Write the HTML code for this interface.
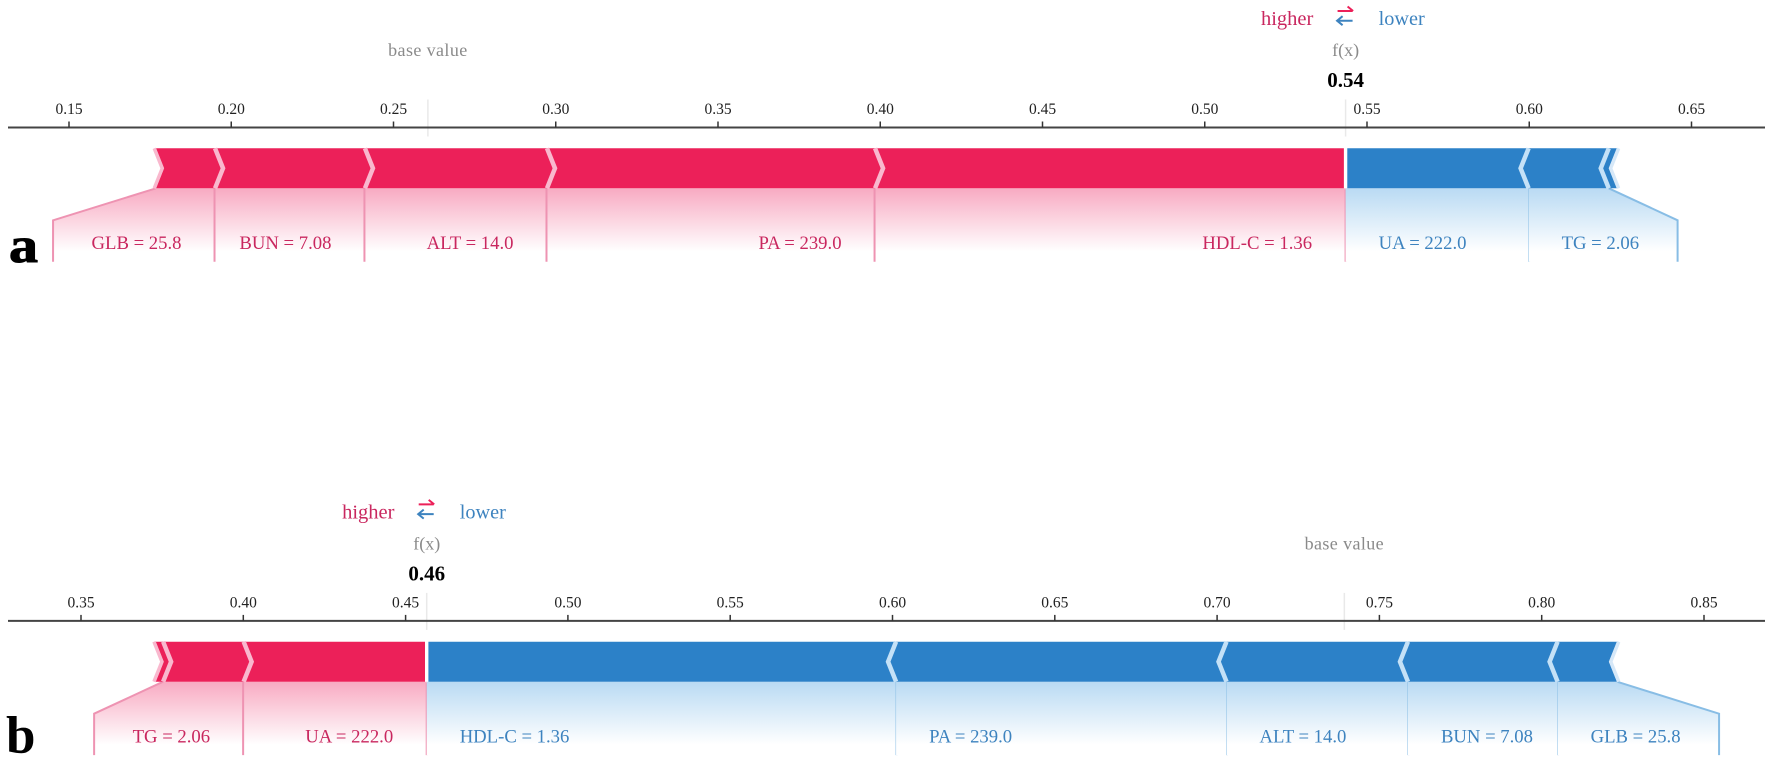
<!DOCTYPE html>
<html lang="en">
<head>
<meta charset="utf-8">
<title>Force plots</title>
<style>
html,body{margin:0;padding:0;background:#fff;}
body{width:1772px;height:761px;overflow:hidden;}
svg{display:block;font-family:"Liberation Serif",serif;}
</style>
</head>
<body>
<svg id="chart" xmlns="http://www.w3.org/2000/svg" width="1772" height="761" viewBox="0 0 1772 761">
  <defs>
    <linearGradient id="fade-red" x1="0" y1="0" x2="0" y2="1">
      <stop offset="0" stop-color="#f8aac2"/>
      <stop offset="0.86" stop-color="#fff"/>
    </linearGradient>
    <linearGradient id="fade-blue" x1="0" y1="0" x2="0" y2="1">
      <stop offset="0" stop-color="#b9daf3"/>
      <stop offset="0.86" stop-color="#fff"/>
    </linearGradient>
  </defs>
  <text x="9" y="262" font-size="50" font-weight="bold" fill="#000" stroke="#000" stroke-width="1" textLength="29" lengthAdjust="spacingAndGlyphs">a</text>
  <text x="6" y="753" font-size="53" font-weight="bold" fill="#000">b</text>
</svg>
<script>
// Panel a data
const aTicks = [0.15, 0.20, 0.25, 0.30, 0.35, 0.40, 0.45, 0.50, 0.55, 0.60, 0.65];
const aTickLabels = ["0.15", "0.20", "0.25", "0.30", "0.35", "0.40", "0.45", "0.50", "0.55", "0.60", "0.65"];
const aBaseValue = 0.2606;
const aOutput = 0.5434;
const aOutputLabel = "0.54";
const aHigherEdges = [0.1768, 0.1950, 0.2412, 0.2973, 0.3984];
const aHigherFeatures = ["GLB = 25.8", "BUN = 7.08", "ALT = 14.0", "PA = 239.0", "HDL-C = 1.36"];
const aLowerEdges = [0.5998, 0.6245, 0.6270];
const aLowerFeatures = ["UA = 222.0", "TG = 2.06", ""];

// Panel b data
const bTicks = [0.35, 0.40, 0.45, 0.50, 0.55, 0.60, 0.65, 0.70, 0.75, 0.80, 0.85];
const bTickLabels = ["0.35", "0.40", "0.45", "0.50", "0.55", "0.60", "0.65", "0.70", "0.75", "0.80", "0.85"];
const bBaseValue = 0.7392;
const bOutput = 0.4565;
const bOutputLabel = "0.46";
const bHigherEdges = [0.3730, 0.3753, 0.4001];
const bHigherFeatures = ["", "TG = 2.06", "UA = 222.0"];
const bLowerEdges = [0.6011, 0.7029, 0.7588, 0.8049, 0.8232];
const bLowerFeatures = ["HDL-C = 1.36", "PA = 239.0", "ALT = 14.0", "BUN = 7.08", "GLB = 25.8"];

const svg = document.getElementById('chart');
const NS = 'http://www.w3.org/2000/svg';
const RED = '#ec2059', BLUE = '#2c81c8', PALE_RED = '#f9b8ce', PALE_BLUE = '#c4e1f7';
const TEXT_RED = '#c9275f', TEXT_BLUE = '#3d83bf', LINE_RED = '#ee93b2', LINE_BLUE = '#88bde5';

function make(tag, attrs, parent, text) {
  const el = document.createElementNS(NS, tag);
  for (const k in attrs) el.setAttribute(k, attrs[k]);
  if (text !== undefined) el.textContent = text;
  parent.appendChild(el);
  return el;
}

function chevron(x, dir, top, mid, bot) {
  return x + ',' + top + ' ' + (x + dir * 8) + ',' + mid + ' ' + x + ',' + bot;
}

function drawPanel(name, xScale, dy, ticks, tickLabels, baseValue, output, outputLabel, higherEdges, higherFeatures, lowerEdges, lowerFeatures) {
  const g = make('g', {}, svg);
  
  

  const axisY = 127.5 + dy, top = 148.3 + dy, bot = 188.3 + dy, mid = 168.3 + dy;
  const knee = bot + 32, end = bot + 73.4;
  const fx = xScale(output), bx = xScale(baseValue);

  // base and output guide lines
  const baseLine = make('line', {x1: bx, x2: bx, y1: axisY - 28, y2: axisY + 9, stroke: '#e9e9e9', 'stroke-width': 1.5}, g);
  
  
  const outLine = make('line', {x1: fx, x2: fx, y1: axisY - 28, y2: axisY + 9, stroke: '#e9e9e9', 'stroke-width': 1.5}, g);
  
  

  // axis
  const axis = make('line', {x1: 8, x2: 1765, y1: axisY, y2: axisY, stroke: '#444', 'stroke-width': 2}, g);
  
  
  ticks.forEach(function (t, i) {
    const x = xScale(t);
    const tick = make('line', {x1: x, x2: x, y1: axisY - 6, y2: axisY, stroke: '#333', 'stroke-width': 1.5}, g);
    
    
    const lab = make('text', {x: x, y: axisY - 13.5, 'text-anchor': 'middle', 'font-size': 15.5, fill: '#222'}, g, tickLabels[i]);
    
    
  });

  // header labels
  const baseLabel = make('text', {x: bx, y: 56 + dy, 'text-anchor': 'middle', 'font-size': 18, 'letter-spacing': 0.4, fill: '#8a8a8a'}, g, 'base value');
  
  
  const fxLabel = make('text', {x: fx, y: 56 + dy, 'text-anchor': 'middle', 'font-size': 18, fill: '#8a8a8a'}, g, 'f(x)');
  
  
  const valLabel = make('text', {x: fx, y: 87 + dy, 'text-anchor': 'middle', 'font-size': 21, 'font-weight': 'bold', fill: '#000'}, g, outputLabel);
  
  

  // legend
  const higher = make('text', {x: fx - 84.6, y: 25 + dy, 'font-size': 20.5, fill: TEXT_RED}, g, 'higher');
  
  
  const lower = make('text', {x: fx + 33, y: 25 + dy, 'font-size': 20.3, fill: TEXT_BLUE}, g, 'lower');
  
  
  const arrowR = make('path', {d: 'M' + (fx - 8) + ' ' + (11 + dy) + 'H' + (fx + 7) + 'M' + (fx + 2) + ' ' + (6.5 + dy) + 'L' + (fx + 7.5) + ' ' + (11 + dy), fill: 'none', stroke: RED, 'stroke-width': 2}, g);
  
  
  const arrowL = make('path', {d: 'M' + (fx + 7) + ' ' + (20.7 + dy) + 'H' + (fx - 8) + 'M' + (fx - 3) + ' ' + (16.2 + dy) + 'L' + (fx - 8.5) + ' ' + (20.7 + dy) + 'L' + (fx - 3) + ' ' + (25.2 + dy), fill: 'none', stroke: TEXT_BLUE, 'stroke-width': 2}, g);
  
  

  // higher (red) side
  const rEdges = higherEdges.map(xScale).concat([fx]);
  const r0 = rEdges[0];
  higherFeatures.forEach(function (label, i) {
    if (!label) return;
    const left = rEdges[i], right = rEdges[i + 1];
    const text = make('text', {x: right - 33.5, y: 249 + dy, 'text-anchor': 'end', 'font-size': 18.7, fill: TEXT_RED}, g, label);
    
    
    const w = text.getComputedTextLength();
    const firstLabelled = higherFeatures.findIndex(function (f) { return !!f; }) === i;
    const outer = firstLabelled ? Math.min(left, right - 33.5 - w - 38.5) : left;
    const pts = firstLabelled
      ? left + ',' + bot + ' ' + right + ',' + bot + ' ' + right + ',' + end + ' ' + outer + ',' + end + ' ' + outer + ',' + knee
      : left + ',' + bot + ' ' + right + ',' + bot + ' ' + right + ',' + end + ' ' + left + ',' + end;
    const fade = make('polygon', {points: pts, fill: 'url(#fade-red)'}, g);
    
    
    g.insertBefore(fade, text);
    if (firstLabelled) {
      const conn = make('polyline', {points: left + ',' + bot + ' ' + outer + ',' + knee + ' ' + outer + ',' + end, fill: 'none', stroke: LINE_RED, 'stroke-width': 2}, g);
      
      
    } else {
      const div = make('line', {x1: left - 0.5, x2: left - 0.5, y1: bot, y2: end, stroke: LINE_RED, 'stroke-width': 2}, g);
      
      
    }
    if (i === higherFeatures.length - 1) {
      const div2 = make('line', {x1: fx, x2: fx, y1: bot + 1, y2: end, stroke: LINE_RED, 'stroke-width': 2}, g);
      
      
    }
  });
  const redBar = make('polygon', {points: chevron(r0, 1, top, mid, bot) + ' ' + (fx - 1.7) + ',' + bot + ' ' + (fx - 1.7) + ',' + top, fill: RED}, g);
  
  
  const redEnd = make('polyline', {points: chevron(r0 - 1.7, 1, top, mid, bot), fill: 'none', stroke: PALE_RED, 'stroke-width': 3.5}, g);
  
  
  rEdges.slice(1, -1).forEach(function (x) {
    const c = make('polyline', {points: chevron(x, 1, top, mid, bot), fill: 'none', stroke: PALE_RED, 'stroke-width': 4.5}, g);
    
    
  });

  // lower (blue) side
  const bEdges = [fx].concat(lowerEdges.map(xScale));
  const bLast = bEdges[bEdges.length - 1];
  const lastLabelled = lowerFeatures.reduce(function (acc, f, i) { return f ? i : acc; }, 0);
  lowerFeatures.forEach(function (label, i) {
    if (!label) return;
    const left = bEdges[i], right = bEdges[i + 1];
    const text = make('text', {x: left + 33, y: 249 + dy, 'text-anchor': 'start', 'font-size': 18.7, fill: TEXT_BLUE}, g, label);
    
    
    const w = text.getComputedTextLength();
    const outer = i === lastLabelled ? Math.max(right, left + 33 + w + 38.5) : right;
    const pts = i === lastLabelled
      ? left + ',' + bot + ' ' + right + ',' + bot + ' ' + outer + ',' + knee + ' ' + outer + ',' + end + ' ' + left + ',' + end
      : left + ',' + bot + ' ' + right + ',' + bot + ' ' + right + ',' + end + ' ' + left + ',' + end;
    const fade = make('polygon', {points: pts, fill: 'url(#fade-blue)'}, g);
    
    
    g.insertBefore(fade, text);
    if (i === lastLabelled) {
      const conn = make('polyline', {points: right + ',' + bot + ' ' + outer + ',' + knee + ' ' + outer + ',' + end, fill: 'none', stroke: LINE_BLUE, 'stroke-width': 2}, g);
      
      
    } else {
      const div = make('line', {x1: right + 0.5, x2: right + 0.5, y1: bot, y2: end, stroke: LINE_BLUE, 'stroke-width': 2}, g);
      
      
    }
  });
  const blueBar = make('polygon', {points: (fx + 1.7) + ',' + top + ' ' + chevron(bLast, -1, top, mid, bot) + ' ' + (fx + 1.7) + ',' + bot, fill: BLUE}, g);
  
  
  const blueEnd = make('polyline', {points: chevron(bLast + 1.7, -1, top, mid, bot), fill: 'none', stroke: '#d6e8f8', 'stroke-width': 3.5}, g);
  
  
  bEdges.slice(1, -1).forEach(function (x) {
    const c = make('polyline', {points: chevron(x, -1, top, mid, bot), fill: 'none', stroke: PALE_BLUE, 'stroke-width': 4.5}, g);
    
    
  });
}

function xScaleA(v) { return 69 + (v - 0.15) * 3245; }
function xScaleB(v) { return 81 + (v - 0.35) * 3246; }

drawPanel('force-plot-a', xScaleA, 0, aTicks, aTickLabels, aBaseValue, aOutput, aOutputLabel, aHigherEdges, aHigherFeatures, aLowerEdges, aLowerFeatures);
drawPanel('force-plot-b', xScaleB, 493.4, bTicks, bTickLabels, bBaseValue, bOutput, bOutputLabel, bHigherEdges, bHigherFeatures, bLowerEdges, bLowerFeatures);
</script>
</body>
</html>
